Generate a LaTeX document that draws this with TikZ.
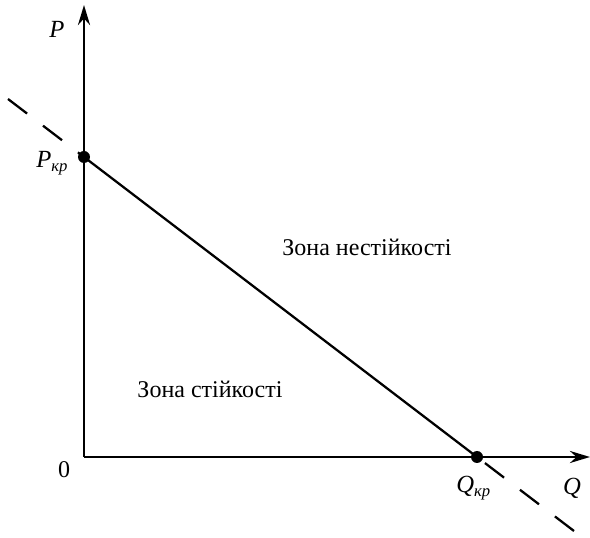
\documentclass[tikz,border=0pt]{standalone}
\usepackage{fontspec}
\setmainfont{Liberation Serif}
\newfontfamily\figfont{Liberation Serif}
\usetikzlibrary{arrows.meta, positioning}

\begin{document}
\begin{tikzpicture}[x=0.75pt, y=-0.75pt, every node/.style={font=\figfont\fontsize{18}{22}\selectfont, inner sep=0pt}]

\tikzset{
  axisline/.style={line width=2pt, -{Stealth[length=15pt, width=9pt]}},
  limitline/.style={line width=1.7pt},
  extline/.style={line width=1.7pt, dash pattern=on 18pt off 15pt},
  critdot/.style={circle, fill=black, minimum size=9pt},
  axislabel/.style={font=\figfont\fontsize{18.5}{22}\selectfont\itshape},
}

\useasboundingbox (0,0) rectangle (590,538);

% ---- axes ----
\coordinate (origin) at (84,457);
\coordinate (ptop) at (84,5);
\coordinate (qend) at (590,457);
\draw[axisline] (origin) -- (ptop);
\draw[axisline] (origin) -- (qend);

% ---- critical points ----
\node[critdot] (pkr) at (84,157) {};
\node[critdot] (qkr) at (477,457) {};
\coordinate (extleft) at (8,99);
\coordinate (extright) at (574,531);

% ---- boundary line ----
\draw[limitline] (pkr.center) -- (qkr.center);
\draw[extline] (extleft) -- (pkr.center);
\draw[extline] (extright) -- (qkr.center);

% ---- labels ----
\node[axislabel, anchor=base] (plabel) at (57,38) {P};
\node[axislabel, anchor=base west] (pkrlabel) at (36,168) {P\raisebox{-0.3ex}{\fontsize{12.5}{13}\selectfont кр}};
\node[anchor=base] (zero) at (64,478) {0};
\node[axislabel, anchor=base west] (qkrlabel) at (456,493) {Q\raisebox{-0.3ex}{\fontsize{12.5}{13}\selectfont кр}};
\node[axislabel, anchor=base] (qlabel) at (572,495) {Q};

\node[anchor=base] (unstable) at (367,256) {Зона нестійкості};
\node[anchor=base] (stable) at (210,398) {Зона стійкості};

\end{tikzpicture}
\end{document}
